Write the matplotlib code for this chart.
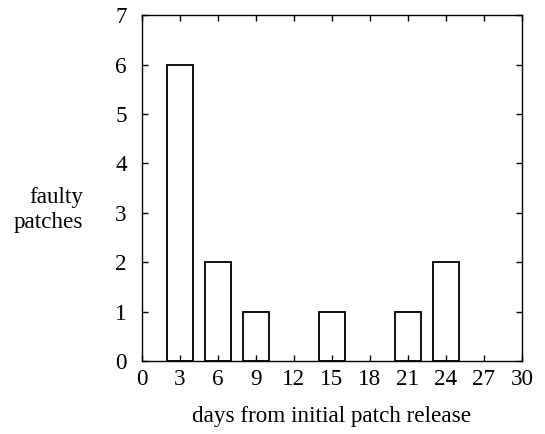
import matplotlib.pyplot as plt

dias = [3, 6, 9, 15, 21, 24]
parches = [6, 2, 1, 1, 1, 2]
xticks = list(range(0, 31, 3))
yticks = list(range(0, 8))

plt.rcParams['font.family'] = ['Liberation Serif', 'DejaVu Serif']
plt.rcParams['font.size'] = 16.7

fig = plt.figure(figsize=(5.45, 4.34), dpi=100)
ax = fig.add_axes([0.2606, 0.1682, 0.697, 0.797])

ax.bar(dias, parches, width=2, facecolor='white', edgecolor='black', linewidth=1.3)

ax.set_xlim(0, 30)
ax.set_ylim(0, 7)
ax.set_xticks(xticks)
ax.set_yticks(yticks)
ax.tick_params(direction='in', length=4, width=1, top=True, right=True)
ax.tick_params(axis='x', pad=6)
ax.tick_params(axis='y', pad=11)
for s in ax.spines.values():
    s.set_linewidth(1)

ax.set_xlabel('days from initial patch release', labelpad=11)
fig.text(0.153, 0.516, 'faulty\npatches', ha='right', va='center',
         multialignment='right', linespacing=1.3)

fig.savefig('out.png', dpi=100)
